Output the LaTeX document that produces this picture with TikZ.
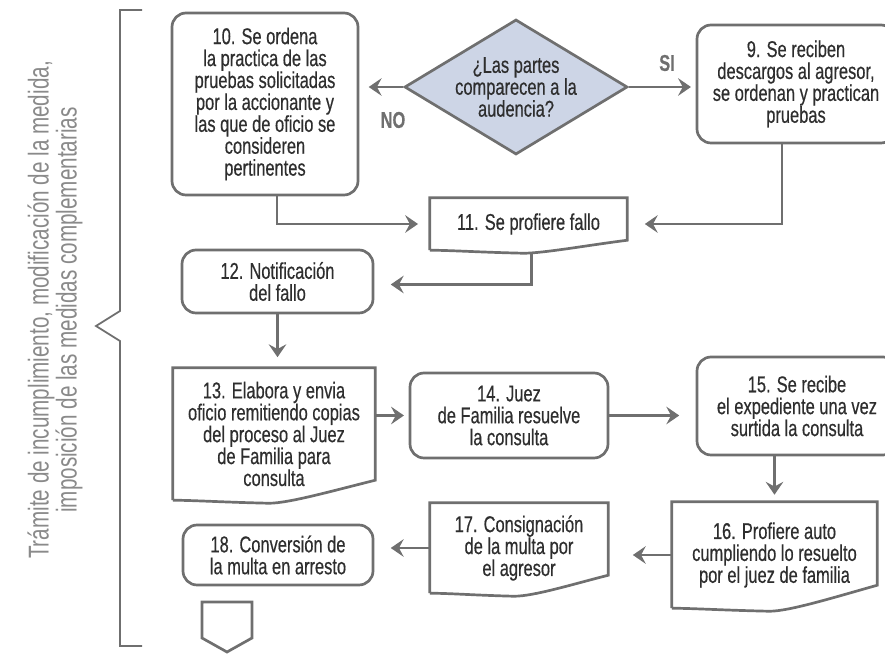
\documentclass[tikz,border=0pt]{standalone}
\usepackage{fontspec}
\setmainfont{Liberation Sans}[FakeStretch=0.72, FakeBold=0.45]
\newfontfamily\titlefam{Liberation Sans}[FakeStretch=0.72]
\usepackage{tikz}
\usetikzlibrary{arrows.meta}
\usetikzlibrary{calc}
\usetikzlibrary{positioning}
\usetikzlibrary{shapes.geometric}

\definecolor{linegray}{HTML}{6F6F6F}
\definecolor{textgray}{HTML}{2E2E2E}
\definecolor{titlegray}{HTML}{8A8A8A}
\definecolor{askblue}{HTML}{CDD5E6}

\newcommand{\boxfont}{\fontsize{19.5}{18.7}\selectfont}
\newcommand{\titlefont}{\titlefam\fontsize{24.5}{23.8}\selectfont}

\tikzset{
  boxline/.style={draw=linegray, line width=2.3pt},
  stepbox/.style={boxline, rounded corners=12pt, align=center, text=textgray, font=\boxfont, inner sep=0pt},
  docbox/.style={align=center, text=textgray, font=\boxfont, inner sep=0pt},
  arr/.style={draw=linegray, line width=2.5pt, -{Stealth[length=11pt,width=15pt,inset=4pt]}},
  answer/.style={text=linegray, font=\boxfont\bfseries}
}

% outline of a document node: node name, rise of the right bottom corner
\newcommand{\docshape}[2]{%
  \draw[boxline] (#1.south west) -- (#1.north west) -- (#1.north east)
    -- ($(#1.south east)+(0,-#2)$)
    .. controls ($(#1.south east)!0.4!(#1.south)+(0,-#2*0.5)$) and ($(#1.south)+(15,3)$) .. ($(#1.south)+(-5,3)$)
    .. controls ($(#1.south west)!0.5!(#1.south)+(0,2)$) and ($(#1.south west)+(20,0)$) .. (#1.south west);}

\begin{document}
\begin{tikzpicture}[x=0.03cm, y=-0.03cm]
    \useasboundingbox (0,0) rectangle (885,655);

    % left brace and title
    \draw[linegray, line width=1.5pt] (142,10) -- (120,10) -- (120,311) -- (96,326) -- (120,341) -- (120,646) -- (142,646);
    \node[rotate=90, align=center, text=titlegray, font=\titlefont] (tramite) at (55,310) {Trámite de incumplimiento, modificación de la medida,\\imposición de las medidas complementarias};

    % steps
    \node[stepbox, minimum width=5.58cm, minimum height=5.46cm] (ordena) at (265,104) {10. Se ordena\\la practica de las\\pruebas solicitadas\\por la accionante y\\las que de oficio se\\consideren\\pertinentes};
    \node[boxline, shape=diamond, aspect=1.65, fill=askblue, inner sep=0pt, minimum width=6.69cm, minimum height=4.05cm, align=center, text=textgray, font=\boxfont] (partes) at (516,87) {¿Las partes\\comparecen a la\\audencia?};
    \node[stepbox, minimum width=5.94cm, minimum height=3.54cm] (descargos) at (796,84) {9. Se reciben\\descargos al agresor,\\se ordenan y practican\\pruebas};
    \node[docbox, minimum width=5.91cm, minimum height=1.56cm] (fallo) at (528.5,224) {11. Se profiere fallo};
    \node[stepbox, minimum width=5.73cm, minimum height=1.89cm] (notifica) at (277.5,281.5) {12. Notificación\\del fallo};
    \node[docbox, minimum width=6.06cm, minimum height=3.96cm] (oficio) at (274,434) {13. Elabora y envia\\oficio remitiendo copias\\del proceso al Juez\\de Familia para\\consulta};
    \node[stepbox, minimum width=5.94cm, minimum height=2.55cm] (juez) at (509,415.5) {14. Juez\\de Familia resuelve\\la consulta};
    \node[stepbox, minimum width=6.0cm, minimum height=2.94cm] (expediente) at (797,406) {15. Se recibe\\el expediente una vez\\surtida la consulta};
    \node[docbox, minimum width=6.15cm, minimum height=3.18cm] (auto) at (774.5,555) {16. Profiere auto\\cumpliendo lo resuelto\\por el juez de familia};
    \node[docbox, minimum width=5.34cm, minimum height=2.7cm] (multa) at (519,548) {17. Consignación\\de la multa por\\el agresor};
    \node[stepbox, minimum width=5.7cm, minimum height=1.8cm] (arresto) at (278,555) {18. Conversión de\\la multa en arresto};

    \docshape{fallo}{10}
    \docshape{oficio}{20}
    \docshape{auto}{23}
    \docshape{multa}{18}

    % off-page connector
    \coordinate (sigue) at (227,602);
    \draw[boxline] ($(sigue)+(-25,0)$) -- ($(sigue)+(25,0)$) -- ($(sigue)+(25,36)$) -- ($(sigue)+(0,50)$) -- ($(sigue)+(-25,36)$) -- cycle;

    % answers
    \node[answer] (no) at (393,120) {NO};
    \node[answer] (si) at (667,63) {SI};

    % connectors
    \draw[arr, shorten >=8pt] (partes.west) -- (partes.west -| ordena.east);
    \draw[arr, shorten >=4pt] (partes.east) -- (partes.east -| descargos.west);
    \draw[arr, shorten >=10pt] ($(ordena.south)+(12,0)$) |- (fallo.west);
    \draw[arr, shorten >=15pt] ($(descargos.south)+(-14,0)$) |- (fallo.east);
    \draw[arr, shorten >=14pt] ($(fallo.south)+(3,2)$) |- ($(notifica.east)+(0,3)$);
    \draw[arr, shorten >=9pt] (notifica.south) -- (notifica.south |- oficio.north);
    \draw[arr, shorten >=4pt] (juez.west -| oficio.east) -- (juez.west);
    \draw[arr, shorten >=14pt] (juez.east) -- (juez.east -| expediente.west);
    \draw[arr, shorten >=6pt] (auto.north |- expediente.south) -- (auto.north);
    \draw[arr, shorten >=21pt] (auto.west) -- (auto.west -| multa.east);
    \draw[arr, shorten >=14pt] (multa.west) -- (multa.west -| arresto.east);
\end{tikzpicture}
\end{document}
